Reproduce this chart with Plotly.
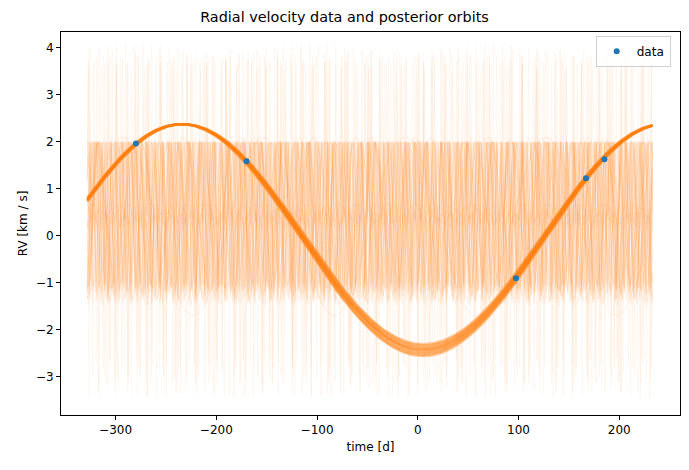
import numpy as np
import plotly.graph_objects as go

# ---------------- data ----------------
t_obs = [-279.8, -170.0, 97.4, 167.0, 185.3]
rv_obs = [1.97, 1.59, -0.90, 1.23, 1.63]
rv_err = [0.05, 0.05, 0.05, 0.05, 0.05]

t_start, t_end = -328.0, 233.0

# main posterior mode (long period)
main_P = [479, 477, 481, 478, 480, 476, 482, 479, 478, 480, 477, 481, 479, 475, 483]
main_K = [2.40, 2.37, 2.43, 2.39, 2.42, 2.35, 2.46, 2.41, 2.38, 2.44, 2.36, 2.45, 2.40, 2.34, 2.47]
main_tp = [-234, -233, -235, -234, -234, -232, -236, -234, -233, -235, -233, -235, -234, -232, -236]
main_off = [-0.02, 0.01, -0.05, -0.01, -0.04, 0.03, -0.08, -0.03, 0.00, -0.06, 0.02, -0.07, -0.02, 0.04, -0.09]

# short-period alias samples (dense band)
alias_P = [4.3, 5.1, 5.8, 6.6, 7.3, 8.1, 8.9, 9.8, 10.7, 11.9, 13.2, 14.6, 16.3, 18.1,
           20.4, 23.0, 26.1, 29.7, 34.2, 39.5, 46.0, 57.5, 57.8, 140.0]
alias_K = [1.60, 1.52, 1.68, 1.56, 1.72, 1.58, 1.50, 1.64, 1.70, 1.55, 1.62, 1.74, 1.53, 1.66,
           1.59, 1.69, 1.57, 1.63, 1.51, 1.67, 1.60, 1.60, 1.60, 1.90]
alias_off = [0.40, 0.46, 0.33, 0.44, 0.29, 0.42, 0.49, 0.36, 0.31, 0.45, 0.38, 0.27, 0.47, 0.34,
             0.41, 0.32, 0.43, 0.37, 0.48, 0.33, 0.42, 0.50, 0.50, 0.20]
alias_tp = [-326.0, -324.5, -322.1, -320.3, -318.8, -317.2, -315.0, -313.9, -312.4, -309.7, -307.1, -305.3,
            -302.6, -300.2, -297.5, -294.1, -290.8, -287.3, -283.0, -279.8, -275.2, -290.6, -276.9, -153.0]

# faint eccentric samples (spikes above and below)
spike_P = [8.7, 10.9, 12.8, 14.9, 17.3, 19.6, 23.4, 27.8, 9.6, 11.7, 13.9, 16.2, 18.8, 22.1, 26.5, 31.3]
spike_K = [1.90, 1.75, 1.85, 1.65, 1.80, 1.70, 1.88, 1.60, 1.95, 1.80, 1.70, 1.90, 1.75, 1.85, 1.65, 1.80]
spike_e = [0.85, 0.80, 0.82, 0.78, 0.84, 0.80, 0.86, 0.75, 0.86, 0.82, 0.80, 0.85, 0.78, 0.83, 0.80, 0.84]
spike_w = [0.0, 0.2, -0.2, 0.1, 0.0, -0.1, 0.2, 0.0, 3.14, 3.0, 3.3, 3.1, 3.2, 2.9, 3.14, 3.05]
spike_off = [0.55, 0.60, 0.50, 0.70, 0.55, 0.65, 0.50, 0.75, 0.20, 0.25, 0.30, 0.15, 0.30, 0.20, 0.35, 0.20]
spike_tp = [-325.0, -321.3, -318.6, -314.2, -311.9, -307.5, -303.3, -299.1,
            -326.4, -322.8, -319.0, -316.5, -312.7, -309.4, -305.8, -301.2]

ORANGE = "#ff7f0e"
BLUE = "#1f77b4"


def kepler_rv(t, P, K, e, w, tp, off):
    M = 2 * np.pi * (t - tp) / P
    E = M.copy()
    for _ in range(60):
        E = E - (E - e * np.sin(E) - M) / (1 - e * np.cos(E))
    f = 2 * np.arctan2(np.sqrt(1 + e) * np.sin(E / 2), np.sqrt(1 - e) * np.cos(E / 2))
    return K * (np.cos(f + w) + e * np.cos(w)) + off


fig = go.Figure()

t_fine = np.linspace(t_start, t_end, 8000)
for P, K, e, w, tp, off in zip(spike_P, spike_K, spike_e, spike_w, spike_tp, spike_off):
    fig.add_trace(go.Scatter(x=t_fine, y=kepler_rv(t_fine, P, K, e, w, tp, off), mode="lines",
                             line=dict(color=ORANGE, width=1), opacity=0.06,
                             showlegend=False, hoverinfo="skip"))

t_med = np.linspace(t_start, t_end, 5000)
for P, K, tp, off in zip(alias_P, alias_K, alias_tp, alias_off):
    fig.add_trace(go.Scatter(x=t_med, y=kepler_rv(t_med, P, K, 0.0, 0.0, tp, off), mode="lines",
                             line=dict(color=ORANGE, width=1), opacity=0.09,
                             showlegend=False, hoverinfo="skip"))

t_main = np.linspace(t_start, t_end, 800)
for P, K, tp, off in zip(main_P, main_K, main_tp, main_off):
    fig.add_trace(go.Scatter(x=t_main, y=kepler_rv(t_main, P, K, 0.0, 0.0, tp, off), mode="lines",
                             line=dict(color=ORANGE, width=2.2), opacity=0.35,
                             showlegend=False, hoverinfo="skip"))

fig.add_trace(go.Scatter(x=t_obs, y=rv_obs, mode="markers", name="data",
                         marker=dict(color=BLUE, size=6),
                         error_y=dict(type="data", array=rv_err, color=BLUE, thickness=1, width=0)))

axis_common = dict(showline=True, linecolor="black", linewidth=1, mirror=True,
                   ticks="outside", ticklen=4, tickwidth=1, tickcolor="black",
                   showgrid=False, zeroline=False,
                   tickfont=dict(family="DejaVu Sans", size=12, color="black"))

fig.update_layout(
    width=689, height=470,
    margin=dict(l=61, r=9, t=32, b=55),
    paper_bgcolor="white", plot_bgcolor="white",
    font=dict(family="DejaVu Sans", size=12, color="black"),
    title=dict(text="Radial velocity data and posterior orbits", x=0.5, xanchor="center",
               y=1 - 17 / 470, yanchor="middle", font=dict(size=14.4, family="DejaVu Sans")),
    xaxis=dict(range=[-354.2, 260.3], tickvals=[-300, -200, -100, 0, 100, 200],
               ticktext=["\u2212300", "\u2212200", "\u2212100", "0", "100", "200"],
               title=dict(text="time [d]", font=dict(size=12), standoff=6), **axis_common),
    yaxis=dict(range=[-3.81, 4.34], tickvals=[-3, -2, -1, 0, 1, 2, 3, 4],
               ticktext=["\u22123", "\u22122", "\u22121", "0", "1", "2", "3", "4"],
               title=dict(text="RV [km / s]", font=dict(size=12), standoff=5), **axis_common),
    legend=dict(x=0.985, y=0.99, xanchor="right", yanchor="top",
                bgcolor="rgba(255,255,255,0.8)", bordercolor="#d0d0d0", borderwidth=1,
                font=dict(size=12)),
)

fig.write_html("out.html")
